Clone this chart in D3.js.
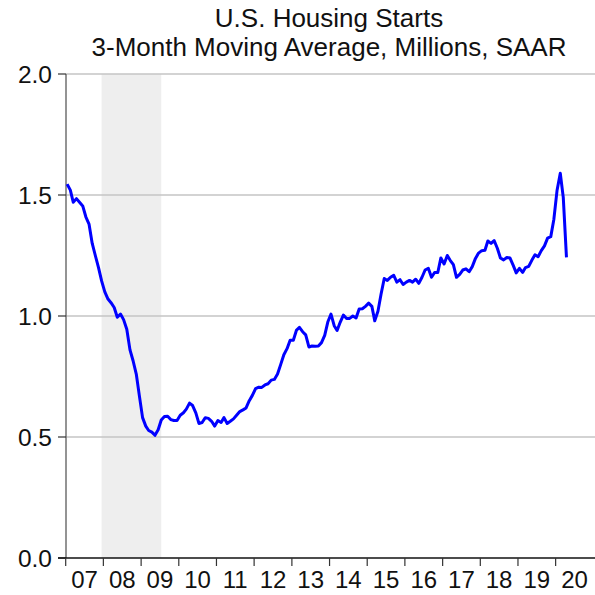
<!DOCTYPE html>
<html>
<head>
<meta charset="utf-8">
<script src="https://cdn.jsdelivr.net/npm/d3@7"></script>
<style>
  body { margin: 0; background: #fff; }
  svg { display: block; font-family: "Liberation Sans", Arial, sans-serif; }
</style>
</head>
<body>
<svg id="chart" width="595" height="595"></svg>
<script>
// title lines
var titleLines = ["U.S. Housing Starts", "3-Month Moving Average, Millions, SAAR"]

// monthly values (millions), Jan 2007 .. Apr 2020
var years = [2007, 2008, 2009, 2010, 2011, 2012, 2013, 2014, 2015, 2016, 2017, 2018, 2019, 2020]
var starts2007 = [1.545, 1.52, 1.47, 1.485, 1.47, 1.455, 1.41, 1.38, 1.30, 1.25, 1.20, 1.145]
var starts2008 = [1.10, 1.07, 1.055, 1.035, 0.995, 1.008, 0.985, 0.945, 0.86, 0.815, 0.76, 0.67]
var starts2009 = [0.58, 0.545, 0.527, 0.52, 0.507, 0.53, 0.57, 0.585, 0.586, 0.572, 0.568, 0.568]
var starts2010 = [0.59, 0.60, 0.615, 0.64, 0.63, 0.60, 0.556, 0.56, 0.58, 0.577, 0.565, 0.545]
var starts2011 = [0.568, 0.56, 0.58, 0.556, 0.565, 0.575, 0.59, 0.605, 0.612, 0.62, 0.65, 0.672]
var starts2012 = [0.70, 0.706, 0.705, 0.715, 0.72, 0.735, 0.738, 0.76, 0.80, 0.84, 0.865, 0.90]
var starts2013 = [0.90, 0.942, 0.953, 0.935, 0.922, 0.872, 0.876, 0.875, 0.876, 0.89, 0.92, 0.975]
var starts2014 = [1.008, 0.96, 0.94, 0.975, 1.004, 0.99, 0.99, 1.00, 0.992, 1.029, 1.03, 1.04]
var starts2015 = [1.053, 1.04, 0.98, 1.02, 1.09, 1.155, 1.147, 1.16, 1.168, 1.14, 1.15, 1.13]
var starts2016 = [1.14, 1.147, 1.14, 1.152, 1.135, 1.16, 1.19, 1.197, 1.16, 1.18, 1.18, 1.24]
var starts2017 = [1.215, 1.25, 1.23, 1.212, 1.16, 1.172, 1.19, 1.195, 1.183, 1.204, 1.238, 1.26]
var starts2018 = [1.27, 1.272, 1.31, 1.30, 1.312, 1.28, 1.24, 1.232, 1.242, 1.24, 1.21, 1.178]
var starts2019 = [1.197, 1.18, 1.20, 1.205, 1.23, 1.253, 1.245, 1.27, 1.29, 1.322, 1.328, 1.40]
var starts2020 = [1.52, 1.59, 1.49, 1.242]

// recession shading (NBER)
var recessionStart = [2007, 11]
var recessionEnd = [2009, 6]

var yTicks = [0.0, 0.5, 1.0, 1.5, 2.0]

var byYear = [starts2007, starts2008, starts2009, starts2010, starts2011, starts2012, starts2013,
  starts2014, starts2015, starts2016, starts2017, starts2018, starts2019, starts2020]

var data = []
byYear.forEach((vals, i) => {
  vals.forEach((v, m) => {
    data.push({ date: new Date(years[i], m, 15), value: v })
  })
})

var svg = d3.select("#chart")

var x = d3.scaleTime()
  .domain([new Date(2007, 0, 1), new Date(2021, 0, 1)])
  .range([65.7, 593.4])
var y = d3.scaleLinear()
  .domain([0, 2])
  .range([558, 74])

// recession band
svg.append("rect")
  .attr("x", x(new Date(recessionStart[0], recessionStart[1], 15)))
  .attr("width", x(new Date(recessionEnd[0], recessionEnd[1], 15)) - x(new Date(recessionStart[0], recessionStart[1], 15)))
  .attr("y", y(2))
  .attr("height", y(0) - y(2))
  .attr("fill", "#eeeeee")

// grid lines
svg.selectAll("line.grid")
  .data(yTicks.filter(d => d > 0))
  .enter().append("line")
  .attr("class", "grid")
  .attr("x1", 66).attr("x2", 595)
  .attr("y1", d => y(d)).attr("y2", d => y(d))
  .attr("stroke", "#c4c4c4")
  .attr("stroke-width", 1.5)

// y axis
svg.append("line")
  .attr("x1", 66).attr("x2", 66)
  .attr("y1", y(2)).attr("y2", y(0))
  .attr("stroke", "#707070")
  .attr("stroke-width", 1.5)

svg.selectAll("line.ytick")
  .data(yTicks)
  .enter().append("line")
  .attr("x1", 58).attr("x2", 66)
  .attr("y1", d => y(d)).attr("y2", d => y(d))
  .attr("stroke", "#333")
  .attr("stroke-width", 1.2)

svg.selectAll("text.ylab")
  .data(yTicks)
  .enter().append("text")
  .attr("x", 52)
  .attr("y", d => y(d))
  .attr("dy", "0.36em")
  .attr("text-anchor", "end")
  .style("font-size", "24.5px")
  .attr("fill", "#111")
  .text(d => d3.format(".1f")(d))

// x axis
svg.append("line")
  .attr("x1", 58).attr("x2", 595)
  .attr("y1", y(0)).attr("y2", y(0))
  .attr("stroke", "#111")
  .attr("stroke-width", 1.5)

var yearStarts = years.map(yr => new Date(yr, 0, 1))
svg.selectAll("line.xtick")
  .data(yearStarts)
  .enter().append("line")
  .attr("x1", d => x(d)).attr("x2", d => x(d))
  .attr("y1", y(0)).attr("y2", y(0) + 8)
  .attr("stroke", "#333")
  .attr("stroke-width", 1.2)

svg.selectAll("text.xlab")
  .data(years)
  .enter().append("text")
  .attr("x", yr => x(new Date(yr, 6, 2)))
  .attr("y", 588)
  .attr("text-anchor", "middle")
  .style("font-size", "24px")
  .attr("fill", "#111")
  .text(yr => String(yr).slice(2))

// line
var line = d3.line()
  .x(d => x(d.date))
  .y(d => y(d.value))

svg.append("path")
  .datum(data)
  .attr("d", line)
  .attr("fill", "none")
  .attr("stroke", "#0000ff")
  .attr("stroke-width", 3)
  .attr("stroke-linejoin", "round")

// title
svg.selectAll("text.title")
  .data(titleLines)
  .enter().append("text")
  .attr("x", 329)
  .attr("y", (d, i) => 27 + i * 29)
  .attr("text-anchor", "middle")
  .style("font-size", "26px")
  .attr("fill", "#111")
  .text(d => d)
</script>
</body>
</html>
